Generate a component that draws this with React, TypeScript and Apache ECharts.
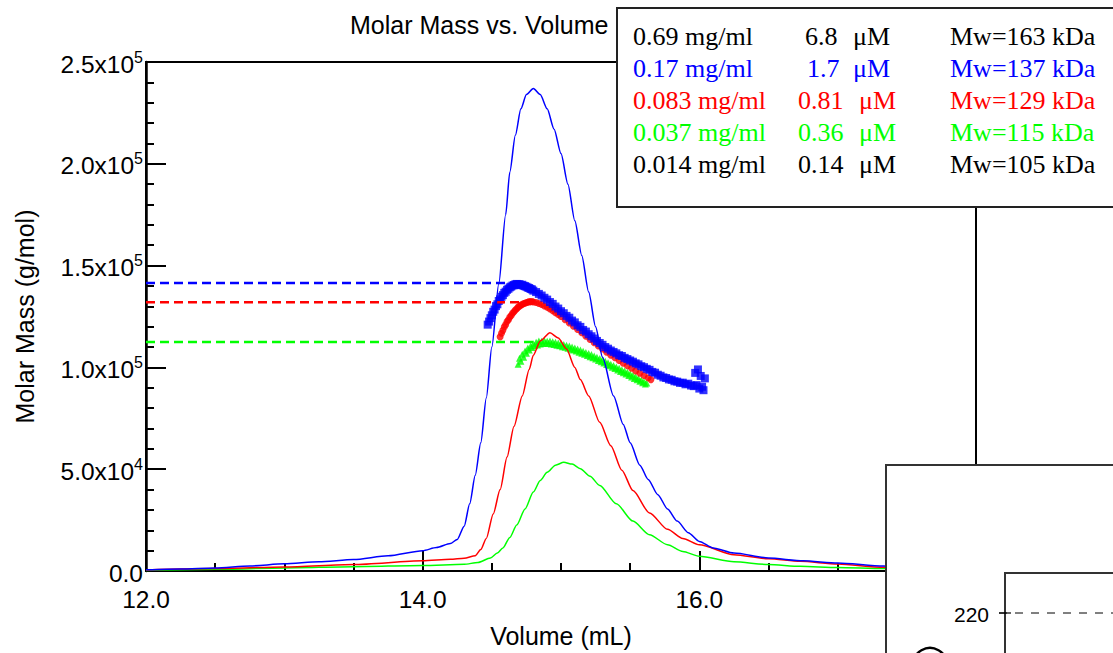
import React, { useEffect, useRef } from 'react';
import * as echarts from 'echarts';

const SANS = 'Liberation Sans';
const SERIF = 'Liberation Serif';
const BLUE = '#0000ff';
const RED = '#ff0000';
const GREEN = '#00ff00';
const BLACK = '#000000';

// Concentration (detector) traces: [volume mL, scaled signal]
const blueTrace = [
  [12.0, 600], [12.25, 1000], [12.5, 1500], [12.75, 2500], [13.0, 3500], [13.25, 4500], [13.5, 5600],
  [13.75, 7500], [14.0, 10000], [14.1, 11500], [14.2, 13500], [14.25, 15500], [14.3, 22000], [14.34, 33000],
  [14.38, 47000], [14.42, 63000], [14.46, 85000], [14.5, 110000], [14.55, 141000], [14.6, 175000],
  [14.63, 196000], [14.67, 214000], [14.71, 227000], [14.75, 234000], [14.8, 237000], [14.85, 234000],
  [14.9, 227000], [14.95, 217000], [15.0, 205000], [15.05, 190000], [15.1, 172000], [15.15, 155000],
  [15.2, 137000], [15.25, 120000], [15.3, 105000], [15.38, 86000], [15.45, 72000], [15.5, 63000],
  [15.57, 52000], [15.63, 45000], [15.7, 37500], [15.77, 30500], [15.84, 24500], [15.92, 18800],
  [16.0, 14500], [16.1, 11300], [16.25, 8800], [16.5, 6400], [16.75, 5000], [17.0, 3900], [17.33, 2400],
  [17.6, 1700], [18.0, 1000],
];
const redTrace = [
  [12.0, 500], [12.5, 1200], [13.0, 2000], [13.5, 3200], [14.0, 5000], [14.2, 5800], [14.3, 6300],
  [14.38, 7500], [14.42, 10500], [14.46, 16000], [14.51, 28000], [14.56, 40000], [14.61, 56000],
  [14.66, 71000], [14.72, 86000], [14.77, 99000], [14.8, 106000], [14.85, 113000], [14.92, 117000],
  [14.98, 114500], [15.04, 109000], [15.1, 100000], [15.14, 94000], [15.2, 86000], [15.28, 73000],
  [15.36, 61500], [15.44, 49500], [15.52, 39500], [15.64, 28500], [15.77, 20500], [15.88, 16000],
  [16.0, 12900], [16.25, 8000], [16.5, 6000], [16.73, 4800], [17.0, 3400], [17.33, 1800], [18.0, 800],
];
const greenTrace = [
  [12.0, 300], [12.5, 800], [13.0, 1500], [13.5, 2100], [14.0, 2700], [14.3, 3300], [14.4, 4200],
  [14.49, 6400], [14.54, 8800], [14.58, 11300], [14.63, 16500], [14.68, 22600], [14.74, 30500],
  [14.8, 38800], [14.85, 44500], [14.9, 48500], [14.96, 52000], [15.02, 53400], [15.08, 52500],
  [15.14, 50200], [15.21, 46500], [15.28, 42000], [15.4, 33000], [15.52, 24500], [15.64, 17800],
  [15.77, 12900], [15.88, 9600], [16.0, 7200], [16.25, 4500], [16.5, 3200], [16.73, 2300], [17.0, 1700],
  [17.33, 1200], [18.0, 600],
];

// Molar mass points: [volume mL, g/mol]
const blueMM = [
  [14.47, 121000], [14.48, 122500], [14.49, 124200], [14.5, 125600], [14.51, 127300], [14.52, 128400],
  [14.53, 130100], [14.54, 131000], [14.55, 132600], [14.56, 133400], [14.57, 134700], [14.58, 135500],
  [14.59, 136600], [14.6, 137200], [14.61, 138100], [14.62, 138600], [14.63, 139300], [14.64, 139700],
  [14.65, 140200], [14.66, 140400], [14.67, 140800], [14.68, 141000], [14.69, 140700], [14.7, 140900],
  [14.71, 140400], [14.72, 140600], [14.73, 140100], [14.74, 139900], [14.75, 139600], [14.76, 139200],
  [14.77, 139000], [14.78, 138500], [14.79, 138300], [14.8, 137700], [14.82, 137000], [14.84, 136100],
  [14.86, 135300], [14.88, 134200], [14.9, 133300], [14.92, 132100], [14.94, 131200], [14.96, 129900],
  [14.98, 128900], [15.0, 127600], [15.02, 126600], [15.04, 125300], [15.06, 124400], [15.08, 123000],
  [15.1, 122100], [15.12, 120700], [15.14, 119900], [15.16, 118400], [15.18, 117600], [15.2, 116300],
  [15.22, 115300], [15.24, 114200], [15.26, 113000], [15.28, 112000], [15.3, 111100], [15.32, 110000],
  [15.34, 109200], [15.36, 108300], [15.38, 107600], [15.4, 106900], [15.42, 106000], [15.44, 105600],
  [15.46, 104700], [15.48, 104100], [15.5, 103400], [15.52, 102800], [15.54, 102000], [15.56, 101500],
  [15.58, 100600], [15.6, 100100], [15.62, 99300], [15.64, 98800], [15.66, 97800], [15.68, 97400],
  [15.7, 96400], [15.72, 95900], [15.74, 95100], [15.76, 94800], [15.78, 94100], [15.8, 93900],
  [15.82, 93200], [15.84, 93000], [15.86, 92400], [15.88, 92500], [15.9, 91700], [15.92, 92000],
  [15.94, 91100], [15.96, 90800], [15.98, 91300], [16.0, 89600], [16.02, 90500], [16.03, 88800],
  [15.99, 99000], [15.97, 97300], [16.04, 94600], [16.01, 95800],
];
const redMM = [
  [14.56, 115000], [14.57, 116800], [14.58, 118200], [14.59, 119900], [14.6, 121000], [14.61, 122500],
  [14.62, 123400], [14.63, 124700], [14.64, 125500], [14.65, 126600], [14.66, 127300], [14.67, 128200],
  [14.68, 128800], [14.69, 129600], [14.7, 130000], [14.71, 130600], [14.72, 130900], [14.73, 131400],
  [14.74, 131500], [14.75, 131900], [14.76, 132000], [14.77, 132300], [14.78, 132200], [14.79, 132400],
  [14.8, 132100], [14.82, 131900], [14.84, 131400], [14.86, 130900], [14.88, 130200], [14.9, 129500],
  [14.92, 128700], [14.94, 127900], [14.96, 126900], [14.98, 126000], [15.0, 125000], [15.03, 123400],
  [15.06, 121800], [15.09, 120200], [15.12, 118600], [15.15, 117000], [15.18, 115300], [15.21, 113700],
  [15.24, 112100], [15.27, 110500], [15.3, 109000], [15.33, 107500], [15.36, 106000], [15.39, 104700],
  [15.42, 103400], [15.45, 102000], [15.48, 100800], [15.51, 99600], [15.54, 98300], [15.57, 97100],
  [15.6, 96000], [15.63, 94900], [15.65, 94000],
];
const greenMM = [
  [14.69, 101500], [14.7, 104500], [14.71, 103000], [14.72, 106500], [14.73, 105000], [14.74, 108000],
  [14.75, 107000], [14.76, 109500], [14.77, 108500], [14.78, 110500], [14.79, 109800], [14.8, 111600],
  [14.81, 110600], [14.82, 112400], [14.83, 111000], [14.84, 113000], [14.85, 111500], [14.86, 112800],
  [14.87, 111700], [14.88, 113200], [14.89, 111900], [14.9, 112900], [14.91, 111800], [14.92, 113000],
  [14.93, 111500], [14.94, 112600], [14.95, 111300], [14.96, 112400], [14.97, 110900], [14.98, 112000],
  [14.99, 110600], [15.0, 111700], [15.01, 110200], [15.02, 111300], [15.03, 109900], [15.04, 110900],
  [15.05, 109400], [15.06, 110500], [15.07, 108900], [15.08, 110000], [15.09, 108500], [15.1, 109500],
  [15.11, 108000], [15.12, 109000], [15.13, 107400], [15.14, 108500], [15.15, 106900], [15.16, 107900],
  [15.17, 106400], [15.18, 107300], [15.19, 105800], [15.2, 106800], [15.21, 105200], [15.22, 106300],
  [15.23, 104700], [15.24, 105600], [15.25, 104100], [15.26, 105000], [15.27, 103400], [15.28, 104400],
  [15.29, 102800], [15.3, 103700], [15.31, 102100], [15.32, 103000], [15.33, 101400], [15.34, 102300],
  [15.35, 100800], [15.36, 101600], [15.37, 100100], [15.38, 100900], [15.39, 99400], [15.4, 100200],
  [15.41, 98700], [15.42, 99600], [15.43, 98000], [15.44, 98900], [15.45, 97400], [15.46, 98200],
  [15.47, 96700], [15.48, 97600], [15.49, 96000], [15.5, 96900], [15.51, 95300], [15.52, 96100],
  [15.53, 94600], [15.54, 95400], [15.55, 93900], [15.56, 94600], [15.57, 93200], [15.58, 93800],
  [15.59, 92500], [15.6, 93100], [15.61, 91800], [15.62, 92300],
];

// Average molar mass reference lines
const blueAvg = [[12.0, 141500], [14.69, 141500]];
const redAvg = [[12.0, 132000], [14.78, 132000]];
const greenAvg = [[12.0, 112500], [14.84, 112500]];

// Legend table
const legendColors = [BLACK, BLUE, RED, GREEN, BLACK];
const concLabels = ['0.69 mg/ml', '0.17 mg/ml', '0.083 mg/ml', '0.037 mg/ml', '0.014 mg/ml'];
const molarLabels = ['6.8', '1.7', '0.81', '0.36', '0.14'];
const mwLabels = ['Mw=163 kDa', 'Mw=137 kDa', 'Mw=129 kDa', 'Mw=115 kDa', 'Mw=105 kDa'];

const fmtY = (v: number) => {
  if (v === 0) return '{m|0.0}';
  const e = Math.floor(Math.log10(v) + 1e-9);
  const m = v / Math.pow(10, e);
  return `{m|${m.toFixed(1)}x10}{s|${e}}`;
};

export default function App() {
  const ref = useRef<HTMLDivElement>(null);
  useEffect(() => {
    if (!ref.current) return;
    const chart = echarts.init(ref.current, null, { renderer: 'svg' });

    const rowY = [36, 68, 100, 132, 164];
    const numX = [805, 807, 798, 798, 798];
    const muX = [853, 853, 859, 859, 859];
    const legendTexts: any[] = [];
    concLabels.forEach((t, i) => {
      const base = { fontSize: 26, fontFamily: SERIF, fill: legendColors[i], verticalAlign: 'middle', textVerticalAlign: 'middle' };
      legendTexts.push({ type: 'text', z: 101, x: 633, y: rowY[i], style: { ...base, text: t } });
      legendTexts.push({ type: 'text', z: 101, x: numX[i], y: rowY[i], style: { ...base, text: molarLabels[i] } });
      legendTexts.push({ type: 'text', z: 101, x: muX[i], y: rowY[i], style: { ...base, text: 'μM' } });
      legendTexts.push({ type: 'text', z: 101, x: 950, y: rowY[i], style: { ...base, text: mwLabels[i] } });
    });

    const lineSeries = (data: number[][], color: string) => ({
      type: 'line', data, showSymbol: false, smooth: 0.25, smoothMonotone: 'x', z: 4,
      lineStyle: { color, width: 1.5 }, silent: true,
    });
    const avgSeries = (data: number[][], color: string) => ({
      type: 'line', data, showSymbol: false, z: 3,
      lineStyle: { color, width: 2.5, type: [9, 5] }, silent: true,
    });
    const mmSeries = (data: number[][], color: string, symbol: string, size: number, z: number) => ({
      type: 'scatter', data, symbol, symbolSize: size, z, itemStyle: { color }, silent: true,
    });

    chart.setOption({
      animation: false,
      backgroundColor: '#ffffff',
      title: {
        text: 'Molar Mass vs. Volume', left: 350, top: 12, padding: 0,
        textStyle: { fontSize: 25, fontWeight: 'normal', fontFamily: SANS, color: BLACK },
      },
      grid: { left: 146, top: 62, width: 830, height: 514.5, show: true, borderColor: BLACK, borderWidth: 2 },
      xAxis: {
        type: 'value', min: 12, max: 18, interval: 2,
        name: 'Volume (mL)', nameLocation: 'middle', nameGap: 52,
        nameTextStyle: { fontSize: 25, fontFamily: SANS, color: BLACK },
        axisLine: { show: true, onZero: false, lineStyle: { color: BLACK, width: 2 } },
        axisTick: { show: true, inside: true, length: 20, lineStyle: { color: BLACK, width: 2 } },
        minorTick: { show: true, splitNumber: 4, length: 8, lineStyle: { color: BLACK, width: 2 } },
        splitLine: { show: false },
        axisLabel: {
          fontSize: 24.5, fontFamily: SANS, color: BLACK, margin: 16, showMaxLabel: false,
          formatter: (v: number) => v.toFixed(1),
        },
      },
      yAxis: {
        type: 'value', min: 0, max: 250000, interval: 50000,
        name: 'Molar Mass (g/mol)', nameLocation: 'middle', nameGap: 109,
        nameTextStyle: { fontSize: 25, fontFamily: SANS, color: BLACK },
        axisLine: { show: true, onZero: false, lineStyle: { color: BLACK, width: 2.5 } },
        axisTick: { show: true, inside: true, length: 20, lineStyle: { color: BLACK, width: 2 } },
        minorTick: { show: true, splitNumber: 5, length: 8, lineStyle: { color: BLACK, width: 2 } },
        splitLine: { show: false },
        axisLabel: {
          margin: 3, formatter: fmtY,
          rich: {
            m: { fontSize: 24.5, fontFamily: SANS, color: BLACK, lineHeight: 26, padding: [4, 0, 0, 0] },
            s: { fontSize: 16, fontFamily: SANS, color: BLACK, verticalAlign: 'top', lineHeight: 16 },
          },
        },
      },
      series: [
        mmSeries(greenMM, GREEN, 'triangle', 7, 2),
        mmSeries(redMM, RED, 'circle', 7, 2),
        mmSeries(blueMM, BLUE, 'rect', 8, 2),
        lineSeries(greenTrace, GREEN),
        lineSeries(redTrace, RED),
        lineSeries(blueTrace, BLUE),
        avgSeries(greenAvg, GREEN),
        avgSeries(redAvg, RED),
        avgSeries(blueAvg, BLUE),
      ],
      graphic: [
        { type: 'rect', z: 100, shape: { x: 617, y: 8, width: 560, height: 199 }, style: { fill: '#fff', stroke: '#222', lineWidth: 2 } },
        ...legendTexts,
        { type: 'rect', z: 100, shape: { x: 886, y: 465, width: 320, height: 300 }, style: { fill: '#fff', stroke: '#333', lineWidth: 2 } },
        { type: 'rect', z: 101, shape: { x: 1005, y: 573, width: 200, height: 200 }, style: { fill: '#fff', stroke: '#333', lineWidth: 2 } },
        { type: 'line', z: 102, shape: { x1: 999, y1: 613, x2: 1113, y2: 613 }, style: { stroke: BLACK, lineWidth: 1, lineDash: [8, 8] } },
        { type: 'line', z: 102, shape: { x1: 999, y1: 613, x2: 1011, y2: 613 }, style: { stroke: BLACK, lineWidth: 1.2 } },
        { type: 'text', z: 102, x: 989, y: 614, style: { text: '220', fontSize: 21, fontFamily: SANS, fill: BLACK, align: 'right', textAlign: 'right', verticalAlign: 'middle', textVerticalAlign: 'middle' } },
        { type: 'circle', z: 102, shape: { cx: 930, cy: 665, r: 17 }, style: { fill: 'none', stroke: BLACK, lineWidth: 2.5 } },
      ],
    });
    return () => chart.dispose();
  }, []);
  return <div ref={ref} style={{ position: 'fixed', left: 0, top: 0, width: 1113, height: 653 }} />;
}
